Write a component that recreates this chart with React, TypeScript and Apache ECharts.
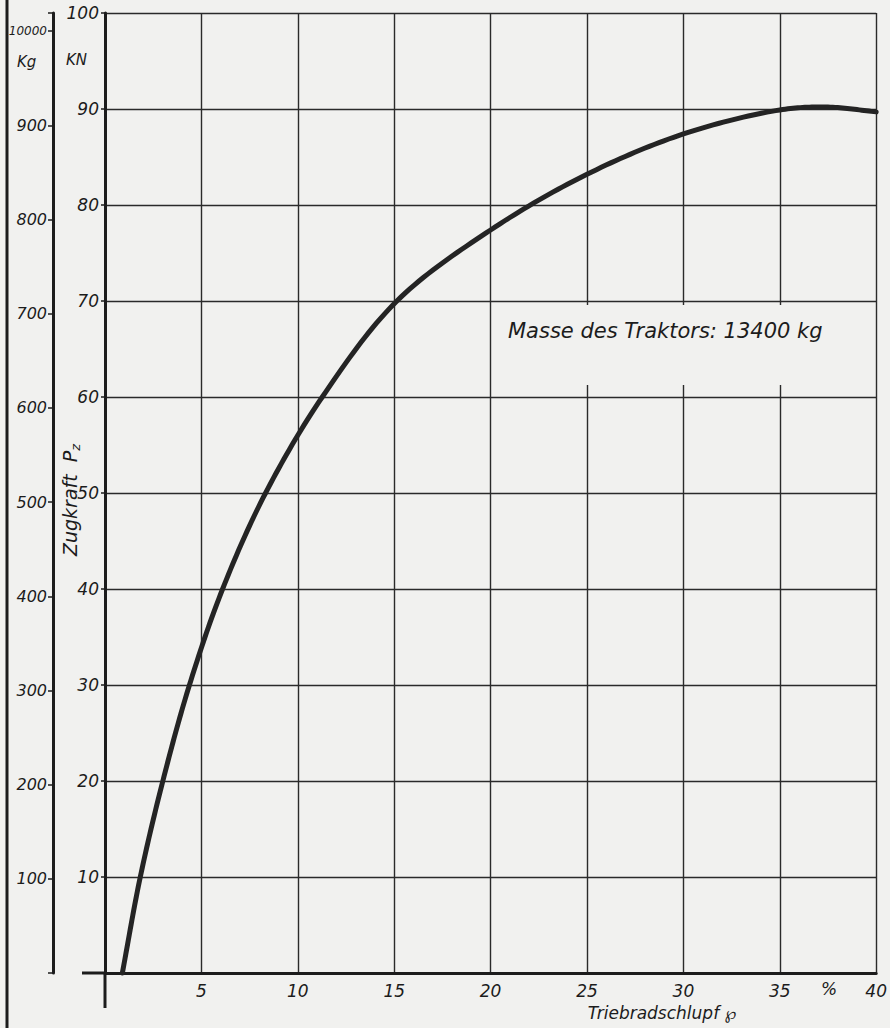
import React, { useEffect, useRef } from "react";
import * as echarts from "echarts";

// Triebradschlupf (%) and Zugkraft (kN)
const slip = [0.9, 1.83, 3.0, 4.38, 6.1, 8.33, 11.27, 15.14, 20, 25, 30, 35, 37.5, 40];
const force = [0, 10, 20, 30, 40, 50, 60, 70, 77.4, 83.2, 87.4, 89.9, 90.2, 89.7];

const xTicks = [5, 10, 15, 20, 25, 30, 35, 40];
const kNTicks = [10, 20, 30, 40, 50, 60, 70, 80, 90, 100];
const kgTicks = [100, 200, 300, 400, 500, 600, 700, 800, 900, 1000];
const kgTopLabel = "10000";

const title = "Masse des Traktors: 13400 kg";
const xName = "Triebradschlupf ℘";
const yName = "Zugkraft  P";
const yNameSub = "z";

const PAPER = "#f1f1ef";
const INK = "#1c1c1c";
const FONT = "'DejaVu Sans', sans-serif";

type Pt = number[];

// centripetal Catmull-Rom through pixel points
function spline(pts: Pt[], steps: number): Pt[] {
  if (pts.length < 3) return pts;
  const n = pts.length;
  const ext: Pt[] = [
    [2 * pts[0][0] - pts[1][0], 2 * pts[0][1] - pts[1][1]],
    ...pts,
    [2 * pts[n - 1][0] - pts[n - 2][0], 2 * pts[n - 1][1] - pts[n - 2][1]],
  ];
  const out: Pt[] = [pts[0]];
  const tj = (ti: number, a: Pt, b: Pt) =>
    ti + Math.pow(Math.hypot(b[0] - a[0], b[1] - a[1]), 0.5) + 1e-6;
  const lerp = (a: Pt, b: Pt, ta: number, tb: number, t: number): Pt => {
    const k = (t - ta) / (tb - ta);
    return [a[0] + (b[0] - a[0]) * k, a[1] + (b[1] - a[1]) * k];
  };
  for (let i = 1; i < ext.length - 2; i++) {
    const p0 = ext[i - 1], p1 = ext[i], p2 = ext[i + 1], p3 = ext[i + 2];
    const t0 = 0;
    const t1 = tj(t0, p0, p1);
    const t2 = tj(t1, p1, p2);
    const t3 = tj(t2, p2, p3);
    for (let s = 1; s <= steps; s++) {
      const t = t1 + ((t2 - t1) * s) / steps;
      const a1 = lerp(p0, p1, t0, t1, t);
      const a2 = lerp(p1, p2, t1, t2, t);
      const a3 = lerp(p2, p3, t2, t3, t);
      const b1 = lerp(a1, a2, t0, t2, t);
      const b2 = lerp(a2, a3, t1, t3, t);
      out.push(lerp(b1, b2, t1, t2, t));
    }
  }
  return out;
}

export default function App() {
  const ref = useRef<HTMLDivElement>(null);
  useEffect(() => {
    if (!ref.current) return;
    const chart = echarts.init(ref.current, undefined, { renderer: "svg" });
    const labelStyle = {
      color: INK,
      fontFamily: FONT,
      fontStyle: "italic" as const,
      fontSize: 16,
    };
    chart.setOption({
      animation: false,
      backgroundColor: PAPER,
      grid: { left: 105, top: 13, right: 10, bottom: 55 },
      xAxis: {
        type: "value",
        min: 0,
        max: 40,
        interval: 5,
        axisLine: { show: true, onZero: false, lineStyle: { color: INK, width: 3 } },
        axisTick: { show: false },
        axisLabel: {
          ...labelStyle,
          fontSize: 17,
          margin: 9,
          formatter: (v: number) => (xTicks.includes(v) ? String(v) : ""),
        },
        splitLine: { show: true, lineStyle: { color: "#2a2a2a", width: 1.4 } },
      },
      yAxis: [
        {
          type: "value",
          min: 0,
          max: 100,
          interval: 10,
          position: "left",
          axisLine: { show: true, onZero: false, lineStyle: { color: INK, width: 3 } },
          axisTick: { show: true, length: 4, lineStyle: { color: INK, width: 1.5 } },
          axisLabel: {
            ...labelStyle,
            fontSize: 17,
            margin: 6,
            formatter: (v: number) => (kNTicks.includes(v) ? String(v) : ""),
          },
          splitLine: { show: true, lineStyle: { color: "#2a2a2a", width: 1.4 } },
        },
        {
          type: "value",
          min: 0,
          max: 100 / 0.0981,
          interval: 100,
          position: "left",
          offset: 52,
          axisLine: { show: true, onZero: false, lineStyle: { color: INK, width: 3 } },
          axisTick: { show: true, length: 5, lineStyle: { color: INK, width: 1.5 } },
          showMaxLabel: false,
          axisLabel: {
            ...labelStyle,
            margin: 6,
            formatter: (v: number) => {
              if (v === 1000) return "{s|" + kgTopLabel + "}";
              return kgTicks.includes(v) ? String(v) : "";
            },
            rich: {
              s: { color: INK, fontFamily: FONT, fontStyle: "italic", fontSize: 12, letterSpacing: -1 },
            },
          },
          splitLine: { show: false },
        },
      ],
      graphic: [
        {
          type: "rect",
          z: 1,
          shape: { x: 500, y: 305, width: 373, height: 80 },
          style: { fill: PAPER },
        },
        {
          type: "line",
          z: 5,
          shape: { x1: 7, y1: 0, x2: 7, y2: 1028 },
          style: { stroke: INK, lineWidth: 3 },
        },
        {
          type: "line",
          z: 5,
          shape: { x1: 105, y1: 973, x2: 105, y2: 1008 },
          style: { stroke: INK, lineWidth: 3 },
        },
        {
          type: "line",
          z: 5,
          shape: { x1: 82, y1: 973, x2: 105, y2: 973 },
          style: { stroke: INK, lineWidth: 3 },
        },
        {
          type: "text",
          z: 5,
          x: 508,
          y: 331,
          style: {
            text: title,
            fill: INK,
            font: `italic 21px ${FONT}`,
            verticalAlign: "middle",
          },
        },
        {
          type: "text",
          z: 5,
          x: 66,
          y: 60,
          style: { text: "KN", fill: INK, font: `italic 15px ${FONT}`, verticalAlign: "middle" },
        },
        {
          type: "text",
          z: 5,
          x: 17,
          y: 62,
          style: { text: "Kg", fill: INK, font: `italic 15px ${FONT}`, verticalAlign: "middle" },
        },
        {
          type: "text",
          z: 5,
          x: 70,
          y: 500,
          rotation: Math.PI / 2,
          style: {
            text: "{a|" + yName + "}{b|" + yNameSub + "}",
            align: "center",
            verticalAlign: "middle",
            rich: {
              a: { fill: INK, fontFamily: FONT, fontStyle: "italic", fontSize: 19 },
              b: { fill: INK, fontFamily: FONT, fontStyle: "italic", fontSize: 13, padding: [10, 0, 0, 0] },
            },
          },
        },
        {
          type: "text",
          z: 5,
          x: 829,
          y: 989,
          style: { text: "%", fill: INK, font: `italic 17px ${FONT}`, align: "center", verticalAlign: "middle" },
        },
        {
          type: "text",
          z: 5,
          x: 662,
          y: 1013,
          style: { text: xName, fill: INK, font: `italic 17px ${FONT}`, align: "center", verticalAlign: "middle" },
        },
      ],
      series: [
        {
          type: "custom",
          coordinateSystem: "cartesian2d",
          xAxisIndex: 0,
          yAxisIndex: 0,
          data: slip.map((s, i) => [s, force[i]]),
          encode: { x: 0, y: 1 },
          z: 3,
          renderItem: (params: any, api: any) => {
            if (params.dataIndex !== 0) return null;
            const pts = slip.map((s, i) => api.coord([s, force[i]]));
            return {
              type: "polyline",
              shape: { points: spline(pts, 20) },
              style: {
                stroke: "#242424",
                lineWidth: 5,
                fill: "none",
                lineJoin: "round",
                lineCap: "round",
              },
            };
          },
        },
      ],
    });
    return () => chart.dispose();
  }, []);
  return (
    <div
      ref={ref}
      style={{ position: "fixed", left: 0, top: 0, width: 890, height: 1028, background: PAPER }}
    />
  );
}
